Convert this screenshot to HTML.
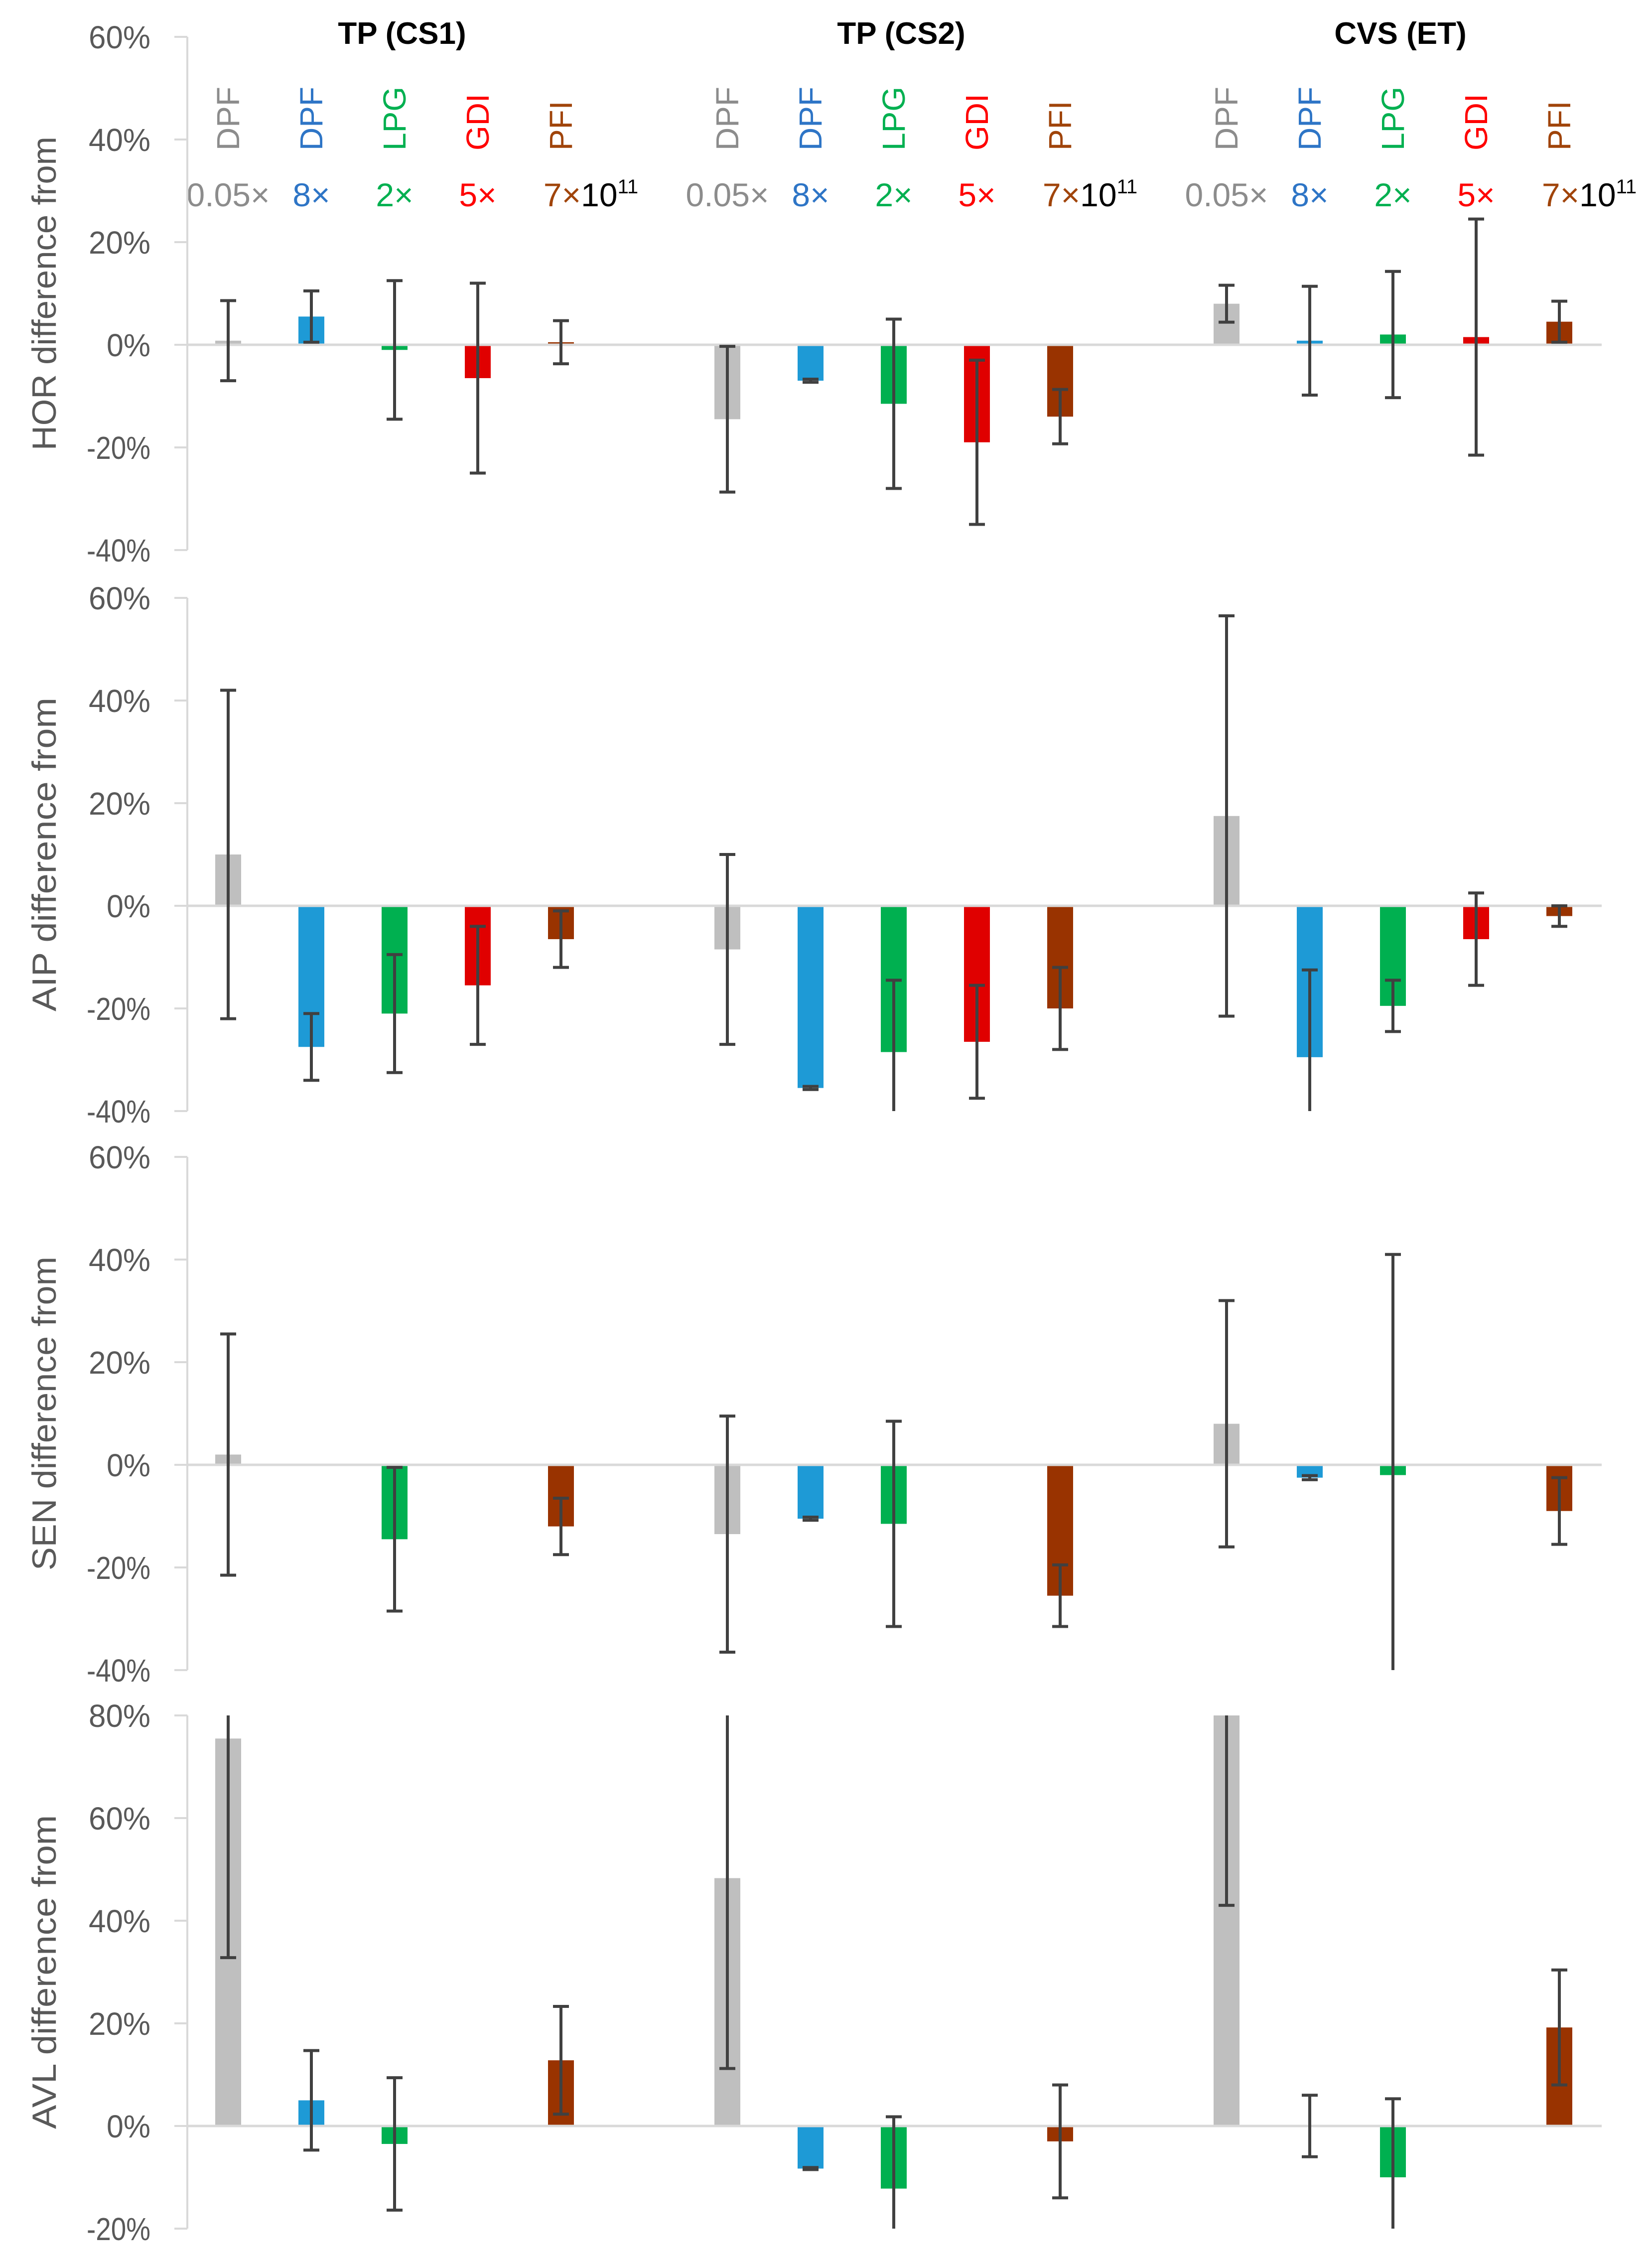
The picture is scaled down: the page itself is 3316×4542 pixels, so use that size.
<!DOCTYPE html>
<html><head><meta charset="utf-8">
<style>
html,body{margin:0;padding:0;background:#fff;}
svg{display:block;font-family:"Liberation Sans",sans-serif;}
</style></head>
<body>
<svg id="chart" width="3316" height="4542" viewBox="0 0 3316 4542" xmlns="http://www.w3.org/2000/svg"></svg>
<script>
// ---- data ----
const groups = ["TP (CS1)", "TP (CS2)", "CVS (ET)"];
const series = ["DPF", "DPF", "LPG", "GDI", "PFI"];
const multipliers = ["0.05×", "8×", "2×", "5×", "7×"];
const metrics = ["HOR", "AIP", "SEN", "AVL"];
// values per metric, per group: [gray, blue, green, red, brown]
const horValues = [[0.8, 5.5, -1, -6.5, 0.5], [-14.5, -7, -11.5, -19, -14], [8, 0.8, 2, 1.5, 4.5]];
const horErrors = [[7.8, 5, 13.5, 18.5, 4.2], [14.2, 0.3, 16.5, 16, 5.3], [3.6, 10.6, 12.3, 23, 4]];
const aipValues = [[10, -27.5, -21, -15.5, -6.5], [-8.5, -35.5, -28.5, -26.5, -20], [17.5, -29.5, -19.5, -6.5, -2]];
const aipErrors = [[32, 6.5, 11.5, 11.5, 5.5], [18.5, 0.3, 14, 11, 8], [39, 17, 5, 9, 2]];
const senValues = [[2, null, -14.5, null, -12], [-13.5, -10.5, -11.5, null, -25.5], [8, -2.5, -2, null, -9]];
const senErrors = [[23.5, 0, 14, 0, 5.5], [23, 0.3, 20, 0, 6], [24, 0.4, 43, 0, 6.5]];
const avlValues = [[75.5, 5, -3.5, null, 12.8], [48.3, -8.3, -12.2, null, -3], [85, 0, -10, null, 19.2]];
const avlErrors = [[42.7, 9.7, 12.9, 0, 10.5], [37.1, 0.2, 14, 0, 11], [42, 6, 15.3, 0, 11.2]];
const pctTicksA = [60, 40, 20, 0, -20, -40];
const pctTicksB = [80, 60, 40, 20, 0, -20];

// ---- layout ----
const NS = "http://www.w3.org/2000/svg";
const svg = document.getElementById('chart');
const colors = ["#bfbfbf", "#1e9ad6", "#00b050", "#e00000", "#993300"];
const labelColors = ["#8c8c8c", "#2e75c6", "#00b050", "#ff0000", "#a0440a"];
const axisX = 376, plotRight = 3215, firstX = 458, slot = 167, barW = 52;
const unit = 10.3; // px per percent
const panels = [
  {metric: 0, vals: horValues, errs: horErrors, ticks: pctTicksA, zeroY: 692},
  {metric: 1, vals: aipValues, errs: aipErrors, ticks: pctTicksA, zeroY: 1818},
  {metric: 2, vals: senValues, errs: senErrors, ticks: pctTicksA, zeroY: 2940},
  {metric: 3, vals: avlValues, errs: avlErrors, ticks: pctTicksB, zeroY: 4267}
];
function el(tag, attrs, parent) {
  const e = document.createElementNS(NS, tag);
  for (const k in attrs) e.setAttribute(k, attrs[k]);
  (parent || svg).appendChild(e);
  return e;
}
function xPos(g, i) { return firstX + slot * (g * 6 + i); }

// headers
groups.forEach((gname, g) => {
  const cx = (xPos(g, 0) + xPos(g, 4)) / 2 + 15;
  const t = el('text', {x: cx, y: 88, 'text-anchor': 'middle', 'font-size': 62, 'font-weight': 'bold', fill: '#000'});
  t.textContent = gname;
  
  
  series.forEach((s, i) => {
    const x = xPos(g, i);
    const r = el('text', {x: 0, y: 0, transform: `translate(${x + 22},302) rotate(-90)`, 'font-size': 64, fill: labelColors[i]});
    r.textContent = s;
    
    
    const m = el('text', {x: i === 4 ? x + 60 : x, y: 414, 'text-anchor': 'middle', 'font-size': 66, fill: labelColors[i]});
    
    
    if (i === 4) {
      const a = el('tspan', {fill: labelColors[4]}, m); a.textContent = multipliers[i];
      const b = el('tspan', {fill: '#000'}, m); b.textContent = '10';
      const c = el('tspan', {fill: '#000', 'font-size': 40, dy: -26}, m); c.textContent = '11';
    } else {
      m.textContent = multipliers[i];
    }
  });
});

panels.forEach(p => {
  const top = p.ticks[0], bot = p.ticks[p.ticks.length - 1];
  const y = v => p.zeroY - v * unit;
  const clip = v => Math.max(bot, Math.min(top, v));
  const gp = el('g', {});
  
  
  const ax = el('line', {x1: axisX, x2: axisX, y1: y(top), y2: y(bot), stroke: '#d9d9d9', 'stroke-width': 4}, gp);
  
  
  p.ticks.forEach(t => {
    const tk = el('line', {x1: axisX - 26, x2: axisX, y1: y(t), y2: y(t), stroke: '#d9d9d9', 'stroke-width': 4}, gp);
    
    
    const tl = el('text', {x: 302, y: y(t) + 23, 'text-anchor': 'end', 'font-size': 64, fill: '#595959', textLength: t < 0 ? 128 : (t === 0 ? 88 : 124), lengthAdjust: 'spacingAndGlyphs'}, gp);
    tl.textContent = t + '%';
    
    
  });
  const midY = (y(top) + y(bot)) / 2;
  const yt = el('text', {x: 0, y: 0, transform: `translate(112,${midY}) rotate(-90)`, 'text-anchor': 'middle', 'font-size': 68, fill: '#595959', textLength: 630, lengthAdjust: 'spacingAndGlyphs'}, gp);
  yt.textContent = metrics[p.metric] + ' difference from';
  
  
  p.vals.forEach((gv, g) => {
    gv.forEach((v, i) => {
      if (v === null || v === 0) return;
      const x = xPos(g, i);
      const vc = clip(v);
      const y1 = Math.min(y(vc), y(0)), h = Math.abs(y(vc) - y(0));
      const b = el('rect', {x: x - barW / 2, y: y1, width: barW, height: Math.max(h, 4), fill: colors[i]}, gp);
      
      
    });
  });
  const z = el('line', {x1: axisX, x2: plotRight, y1: y(0), y2: y(0), stroke: '#d9d9d9', 'stroke-width': 5}, gp);
  
  
  p.vals.forEach((gv, g) => {
    gv.forEach((v, i) => {
      if (v === null) return;
      const e = p.errs[g][i];
      const x = xPos(g, i);
      const hi = v + e, lo = v - e;
      const eg = el('g', {stroke: '#404040', 'stroke-width': 6}, gp);
      
      
      el('line', {x1: x, x2: x, y1: y(clip(hi)), y2: y(clip(lo))}, eg);
      if (hi <= top) el('line', {x1: x - 16, x2: x + 16, y1: y(hi), y2: y(hi)}, eg);
      if (lo >= bot) el('line', {x1: x - 16, x2: x + 16, y1: y(lo), y2: y(lo)}, eg);
    });
  });
});
</script>
</body></html>
